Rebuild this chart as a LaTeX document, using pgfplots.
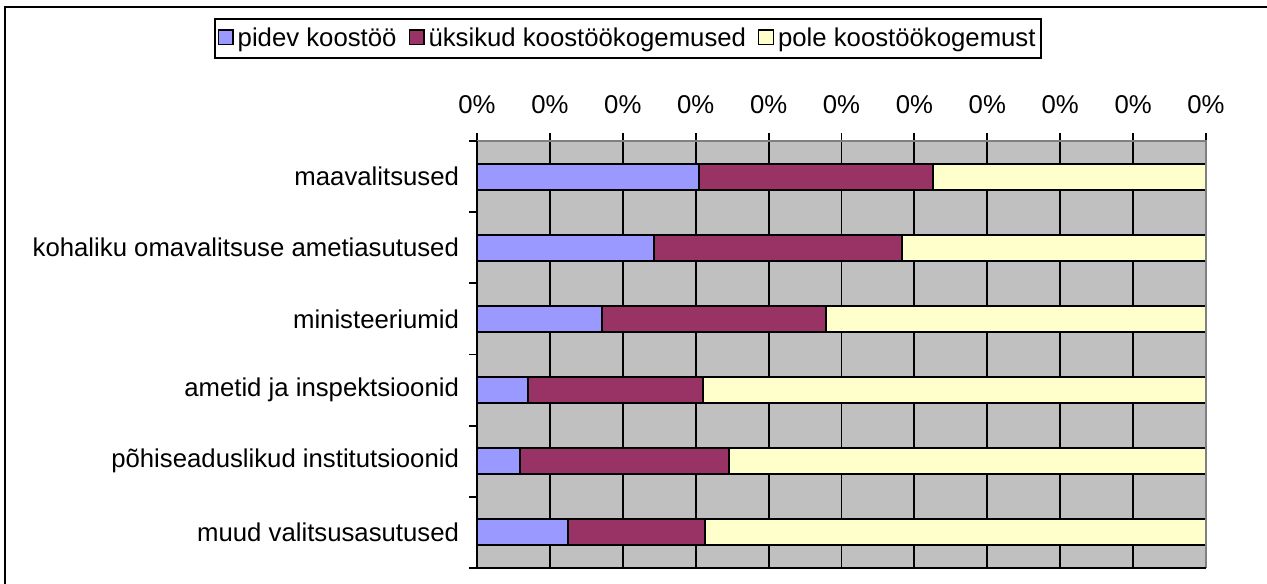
\documentclass[border=0pt]{standalone}
\usepackage{pgfplots}
\pgfplotsset{compat=1.18}
\usepackage{fontspec}
\setmainfont{Liberation Sans}
\definecolor{cblue}{HTML}{9999FF}
\definecolor{cmaroon}{HTML}{993366}
\definecolor{cyellow}{HTML}{FFFFCC}
\definecolor{bggray}{HTML}{C0C0C0}
\definecolor{edgegray}{HTML}{808080}
\begin{document}
\begin{tikzpicture}
\useasboundingbox (0,0) rectangle (950.25pt,437.25pt);
\draw[line width=1.5pt] (3.75pt,-2pt) -- (3.75pt,432pt) -- (952pt,432pt);
\begin{axis}[
  at={(357.75pt,11.25pt)}, anchor=south west,
  scale only axis, width=546.75pt, height=320.25pt,
  xbar stacked, bar width=19.5pt,
  xmin=0, xmax=1, ymin=-0.5, ymax=5.5, y dir=reverse,
  axis background/.style={fill=bggray},
  axis line style={draw=none},
  xtick={0,0.1,0.2,0.3,0.4,0.5,0.6,0.7,0.8,0.9,1},
  xticklabel={0\%},
  xtick pos=right, xticklabel pos=right,
  ytick={-0.5,0.5,1.5,2.5,3.5,4.5,5.5}, yticklabels={},
  ytick pos=left,
  extra y ticks={0,1,2,3,4,5},
  extra y tick labels={maavalitsused,kohaliku omavalitsuse ametiasutused,ministeeriumid,ametid ja inspektsioonid,põhiseaduslikud institutsioonid,muud valitsusasutused},
  extra y tick style={major tick length=0pt},
  tick align=outside, major tick length=6pt,
  tick style={black, line width=1.4pt},
  xmajorgrids, major grid style={black, line width=1.4pt},
  ticklabel style={font=\fontsize{19.3}{21}\selectfont},
  yticklabel style={xshift=-10pt},
  xticklabel style={yshift=11pt},
  legend style={at={(0.2071,1.240)}, anchor=center, legend columns=-1,
    draw=black, line width=1.2pt, font=\fontsize{19.3}{21}\selectfont,
    inner xsep=2pt, inner ysep=5pt,
    /tikz/every odd column/.append style={column sep=1pt},
    /tikz/every even column/.append style={column sep=7pt}},
  legend image code/.code={\draw[#1, draw=black, line width=1pt] (0pt,-4.5pt) rectangle (11pt,6.5pt);},
  after end axis/.code={
    \draw[edgegray, line width=1.5pt] (rel axis cs:0,1) -- (rel axis cs:1,1) -- (rel axis cs:1,0);
    \draw[black, line width=1.4pt] (rel axis cs:0,1) -- (rel axis cs:0,0) -- (rel axis cs:1,0);
  },
]
\addplot[fill=cblue, draw=black, line width=1.4pt] coordinates {(0.304,0) (0.243,1) (0.171,2) (0.070,3) (0.059,4) (0.125,5)};
\addplot[fill=cmaroon, draw=black, line width=1.4pt] coordinates {(0.322,0) (0.340,1) (0.308,2) (0.240,3) (0.287,4) (0.188,5)};
\addplot[fill=cyellow, draw=black, line width=1.4pt] coordinates {(0.374,0) (0.417,1) (0.521,2) (0.690,3) (0.654,4) (0.687,5)};
\legend{pidev koostöö,üksikud koostöökogemused,pole koostöökogemust}
\end{axis}
\end{tikzpicture}
\end{document}
